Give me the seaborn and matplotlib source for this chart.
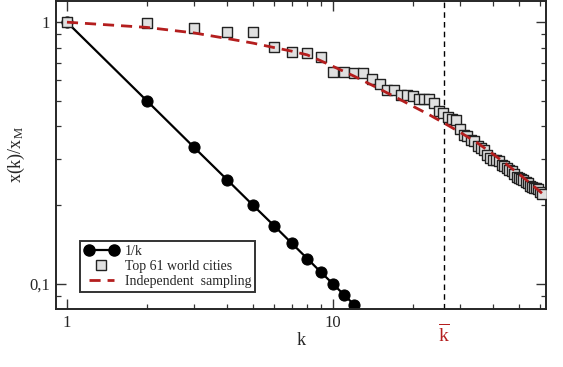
import matplotlib
matplotlib.use("Agg")
import matplotlib.pyplot as plt
import matplotlib.ticker as mticker
from matplotlib.lines import Line2D
from matplotlib.legend_handler import HandlerLine2D
import seaborn as sns

# Data
rank = list(range(1, 62))
cities = [1.0, 0.995, 0.946, 0.919, 0.916, 0.802, 0.768, 0.764, 0.738, 0.646,
          0.645, 0.640, 0.637, 0.609, 0.578, 0.553, 0.551, 0.529, 0.528, 0.521,
          0.511, 0.510, 0.509, 0.492, 0.459, 0.450, 0.435, 0.425, 0.422, 0.392,
          0.372, 0.366, 0.356, 0.351, 0.336, 0.331, 0.326, 0.312, 0.303, 0.2985,
          0.298, 0.294, 0.2856, 0.283, 0.2775, 0.2733, 0.269, 0.262, 0.2564, 0.254,
          0.252, 0.250, 0.246, 0.242, 0.236, 0.235, 0.233, 0.2326, 0.231, 0.2253,
          0.2213]

inv_k = list(range(1, 13))
inv_vals = [1.0, 0.5, 0.333, 0.25, 0.2, 0.167, 0.143, 0.125, 0.111, 0.1, 0.0909, 0.0833]

samp_k = [1, 2, 3, 4, 5, 6, 7, 8, 9, 10, 12, 14, 17, 20, 23, 26, 30, 35, 40, 45, 50, 55, 61]
samp_vals = [1.0, 0.955, 0.91, 0.866, 0.832, 0.80, 0.775, 0.75, 0.712, 0.678, 0.622,
             0.575, 0.52, 0.477, 0.443, 0.413, 0.38, 0.345, 0.313, 0.286, 0.263,
             0.243, 0.222]

k_bar = 26.2

sns.set_style("ticks")
plt.rcParams['font.family'] = ['Liberation Serif', 'DejaVu Serif']
plt.rcParams['mathtext.fontset'] = 'custom'
plt.rcParams['mathtext.rm'] = 'Liberation Serif'
plt.rcParams['mathtext.it'] = 'Liberation Serif'

fig = plt.figure(figsize=(5.63, 3.67), dpi=100)
ax = fig.add_axes([0.0989, 0.158, 0.8703, 0.8406])

red = '#b41e1e'
dash = (0, (4, 2.5))

ax.axvline(k_bar, color='black', lw=1.0, ls=(0, (4, 3)), zorder=1)

sns.lineplot(x=inv_k, y=inv_vals, ax=ax, color='black', lw=1.6,
             marker='o', markersize=8, markeredgecolor='black', zorder=2)
sns.scatterplot(x=rank, y=cities, ax=ax, marker='s', s=45, color='#e0e0e0',
                edgecolor='#222222', linewidth=1.0, zorder=3)
sns.lineplot(x=samp_k, y=samp_vals, ax=ax, color=red, lw=2.0,
             linestyle=dash, zorder=4)

ax.set_xscale('log')
ax.set_yscale('log')
ax.set_xlim(0.907, 63.0)
ax.set_ylim(0.0802, 1.21)

ax.xaxis.set_major_locator(mticker.FixedLocator([1, 10]))
ax.xaxis.set_major_formatter(mticker.FixedFormatter(['1', '10']))
ax.xaxis.set_minor_locator(mticker.LogLocator(base=10, subs=range(2, 10), numticks=20))
ax.xaxis.set_minor_formatter(mticker.NullFormatter())
ax.yaxis.set_major_locator(mticker.FixedLocator([0.1, 1]))
ax.yaxis.set_major_formatter(mticker.FixedFormatter(['0,1', '1']))
ax.yaxis.set_minor_locator(mticker.LogLocator(base=10, subs=range(2, 10), numticks=20))
ax.yaxis.set_minor_formatter(mticker.NullFormatter())

ax.tick_params(which='both', direction='in', top=True, right=True,
               labelsize=12, color='#333333')
ax.tick_params(which='major', length=7, width=1.0, pad=4)
ax.tick_params(which='minor', length=3.5, width=0.9)
for sp in ax.spines.values():
    sp.set_linewidth(1.4)
    sp.set_visible(True)

ax.set_xlabel('k', fontsize=13, labelpad=1)
ax.set_ylabel(r'x(k)/x$_\mathrm{M}$', fontsize=13, labelpad=2)

ax.text(k_bar, -0.045, r'$\overline{\mathrm{k}}$', color=red, fontsize=14,
        ha='center', va='top', transform=ax.get_xaxis_transform())

handles = [
    Line2D([], [], color='black', lw=1.6, marker='o', markersize=8),
    Line2D([], [], ls='none', marker='s', markersize=6.5, markerfacecolor='#e0e0e0',
           markeredgecolor='#222222', markeredgewidth=1.0),
    Line2D([], [], color=red, lw=2.0, ls=dash),
]
labels = ['1/k', 'Top 61 world cities', 'Independent  sampling']
leg = ax.legend(handles, labels, loc='lower left', bbox_to_anchor=(0.05, 0.055),
                fontsize=10, frameon=True, fancybox=False, numpoints=2,
                handlelength=2.4, handletextpad=0.5, labelspacing=0.15,
                borderpad=0.3, borderaxespad=0.0,
                handler_map={handles[1]: HandlerLine2D(numpoints=1)})
leg.get_frame().set_edgecolor('black')
leg.get_frame().set_linewidth(1.4)

fig.savefig('out.png', dpi=100)
